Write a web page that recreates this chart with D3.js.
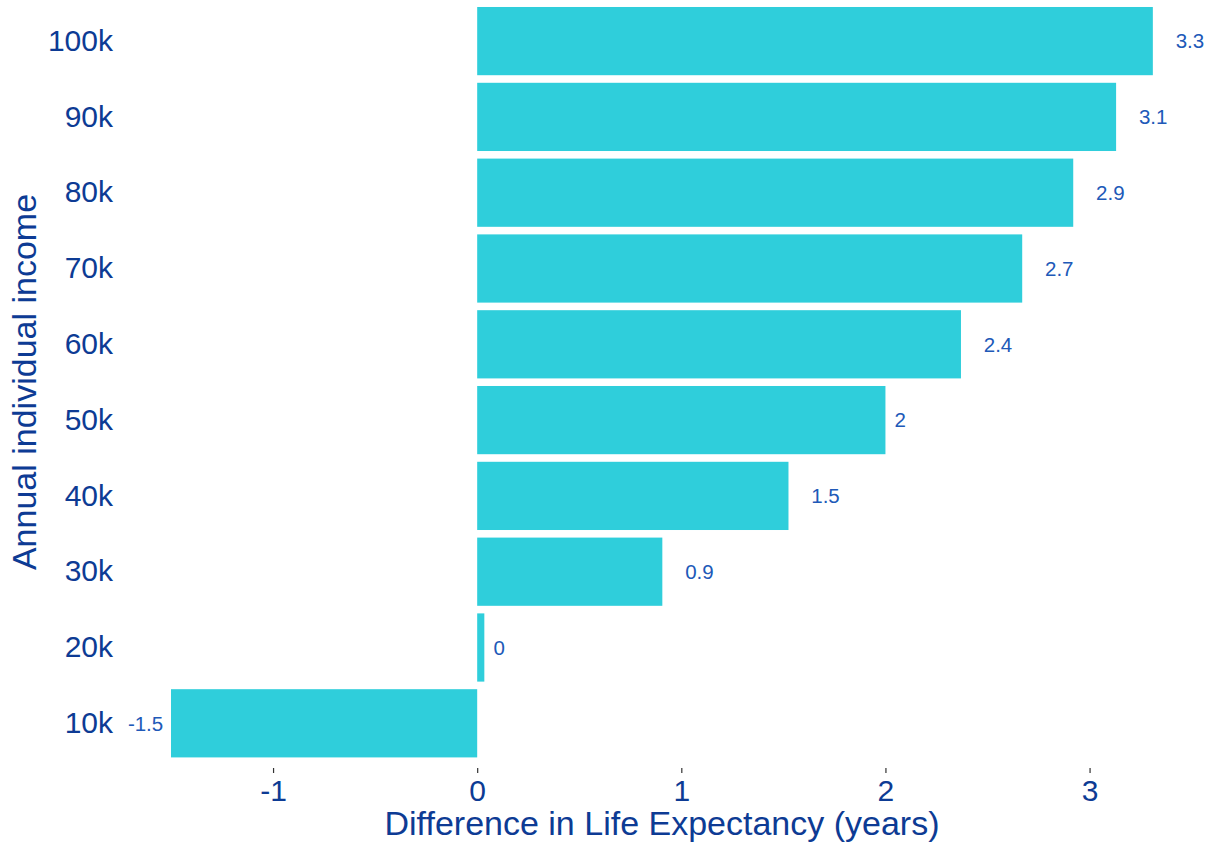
<!DOCTYPE html>
<html>
<head>
<meta charset="utf-8">
<script src="https://cdn.jsdelivr.net/npm/d3@7"></script>
<style>
  html, body { margin: 0; padding: 0; background: #ffffff; }
  svg { display: block; font-family: "Liberation Sans", Arial, Helvetica, sans-serif; }
</style>
</head>
<body>
<svg id="chart" width="1217" height="850"></svg>
<script>
// Income brackets, top to bottom
const incomes = ["100k", "90k", "80k", "70k", "60k", "50k", "40k", "30k", "20k", "10k"];
// Difference in life expectancy (years) for each bracket
const lifeDiff = [3.31, 3.13, 2.92, 2.67, 2.37, 2.0, 1.525, 0.907, 0.035, -1.5];
// Tick values along the x axis
const xTicks = [-1, 0, 1, 2, 3];

const barColor = "#2fcedb";
const axisText = "#0d3b94";
const valueText = "#2059b8";

const svg = d3.select("#chart");
const rows = incomes.map((k, i) => ({ income: k, value: lifeDiff[i] }));

// Horizontal scale: 0 sits at ~477px, ~204px per year
const x = d3.scaleLinear().domain([-1.5, 3.3]).range([171, 1150.8]);
const y = d3.scaleBand()
  .domain(incomes)
  .range([3.2, 761.2])
  .paddingInner(0.1)
  .paddingOuter(0.05);

// Bars
svg.append("g")
  .selectAll("rect")
  .data(rows)
  .join("rect")
  .attr("x", d => x(Math.min(0, d.value)))
  .attr("y", d => y(d.income))
  .attr("width", d => Math.abs(x(d.value) - x(0)))
  .attr("height", y.bandwidth())
  .attr("fill", barColor);

// Value labels, rounded to one decimal
const fmt = v => String(+v.toFixed(1));
const labels = svg.append("g")
  .selectAll("text")
  .data(rows)
  .join("text")
  .attr("y", d => y(d.income) + y.bandwidth() / 2)
  .attr("dy", "0.36em")
  .attr("font-size", 20.5)
  .attr("fill", valueText)
  .text(d => fmt(d.value));
labels.each(function(d) {
  const w = this.getComputedTextLength();
  if (d.value >= 0) {
    d3.select(this).attr("text-anchor", "start").attr("x", x(d.value) + 0.8 * w);
  } else {
    d3.select(this).attr("text-anchor", "end").attr("x", x(d.value) - 0.22 * w);
  }
});

// X axis: short ticks and labels, no domain line
const xAxis = d3.axisBottom(x)
  .tickValues(xTicks)
  .tickSize(5)
  .tickPadding(7)
  .tickFormat(d => String(d));
const gx = svg.append("g")
  .attr("transform", "translate(0,768)")
  .call(xAxis);
gx.select(".domain").remove();
gx.selectAll(".tick line").attr("stroke", "#333333").attr("stroke-width", 1.2);
gx.selectAll(".tick text")
  .attr("font-size", 30)
  .attr("font-family", "Liberation Sans, Arial, sans-serif")
  .attr("fill", axisText);

// Y axis: labels only
const yAxis = d3.axisLeft(y).tickSize(0).tickPadding(0);
const gy = svg.append("g")
  .attr("transform", "translate(113,0)")
  .call(yAxis);
gy.select(".domain").remove();
gy.selectAll(".tick text")
  .attr("font-size", 30)
  .attr("font-family", "Liberation Sans, Arial, sans-serif")
  .attr("fill", axisText);

// Axis titles
svg.append("text")
  .attr("x", 662)
  .attr("y", 835)
  .attr("text-anchor", "middle")
  .attr("font-size", 34)
  .attr("fill", axisText)
  .text("Difference in Life Expectancy (years)");

svg.append("text")
  .attr("transform", "translate(36,382) rotate(-90)")
  .attr("text-anchor", "middle")
  .attr("font-size", 34)
  .attr("fill", axisText)
  .text("Annual individual income");
</script>
</body>
</html>
